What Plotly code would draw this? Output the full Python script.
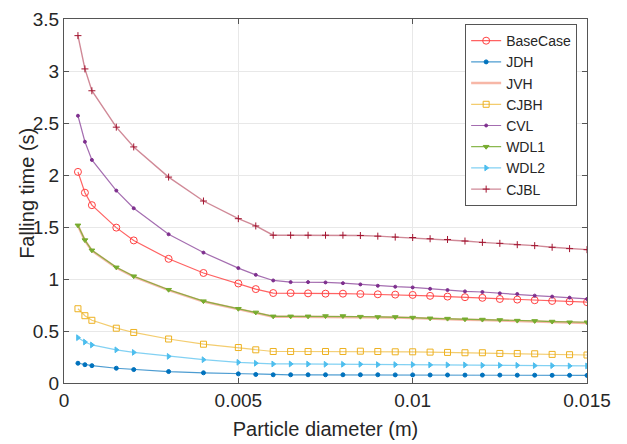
import plotly.graph_objects as go

diam = [0.0004, 0.0006, 0.0008, 0.0015, 0.002, 0.003, 0.004, 0.005, 0.0055,
        0.006, 0.0065, 0.007, 0.0075, 0.008, 0.0085, 0.009, 0.0095, 0.01,
        0.0105, 0.011, 0.0115, 0.012, 0.0125, 0.013, 0.0135, 0.014, 0.0145, 0.015]

base_case = [2.03, 1.83, 1.71, 1.494, 1.371, 1.194, 1.058, 0.957, 0.903,
             0.865, 0.865, 0.862, 0.859, 0.859, 0.856, 0.853, 0.850, 0.847,
             0.838, 0.831, 0.825, 0.819, 0.808, 0.802, 0.796, 0.789, 0.783, 0.777]
jdh = [0.19, 0.176, 0.167, 0.142, 0.129, 0.110, 0.098, 0.088, 0.082,
       0.079, 0.079, 0.079, 0.079, 0.079, 0.079, 0.079, 0.078, 0.078,
       0.077, 0.077, 0.076, 0.076, 0.076, 0.075, 0.075, 0.074, 0.074, 0.073]
jvh = [1.512, 1.370, 1.272, 1.108, 1.023, 0.893, 0.783, 0.710, 0.675,
       0.637, 0.637, 0.637, 0.638, 0.638, 0.636, 0.633, 0.631, 0.625,
       0.618, 0.615, 0.609, 0.605, 0.601, 0.595, 0.592, 0.586, 0.579, 0.578]
cjbh = [0.714, 0.647, 0.603, 0.527, 0.486, 0.423, 0.373, 0.341, 0.319,
        0.303, 0.303, 0.303, 0.303, 0.303, 0.306, 0.303, 0.300, 0.300,
        0.297, 0.294, 0.291, 0.291, 0.284, 0.284, 0.281, 0.275, 0.272, 0.269]
cvl = [2.57, 2.32, 2.145, 1.85, 1.68, 1.43, 1.254, 1.105, 1.04,
       0.986, 0.970, 0.970, 0.967, 0.960, 0.948, 0.935, 0.926, 0.919,
       0.906, 0.894, 0.881, 0.875, 0.862, 0.856, 0.840, 0.831, 0.821, 0.808]
wdl1 = [1.516, 1.374, 1.276, 1.112, 1.027, 0.897, 0.787, 0.714, 0.679,
        0.641, 0.641, 0.641, 0.644, 0.644, 0.638, 0.635, 0.635, 0.629,
        0.622, 0.619, 0.613, 0.610, 0.606, 0.600, 0.597, 0.591, 0.584, 0.584]
wdl2 = [0.436, 0.394, 0.366, 0.319, 0.294, 0.256, 0.224, 0.199, 0.190,
        0.183, 0.183, 0.182, 0.180, 0.180, 0.180, 0.177, 0.177, 0.177,
        0.174, 0.174, 0.174, 0.170, 0.170, 0.170, 0.167, 0.167, 0.164, 0.164]
cjbl = [3.34, 3.02, 2.81, 2.46, 2.27, 1.98, 1.75, 1.58, 1.51,
        1.421, 1.421, 1.421, 1.421, 1.421, 1.418, 1.412, 1.403, 1.399,
        1.387, 1.380, 1.365, 1.352, 1.343, 1.330, 1.321, 1.305, 1.292, 1.282]

x_ticks = [0, 0.005, 0.01, 0.015]
x_tick_labels = ["0", "0.005", "0.01", "0.015"]
y_ticks = [0, 0.5, 1, 1.5, 2, 2.5, 3, 3.5]
y_tick_labels = ["0", "0.5", "1", "1.5", "2", "2.5", "3", "3.5"]

series = [
    ("BaseCase", base_case, "rgba(255,70,70,0.85)", "#ff4040", "circle-open", 7, 1.2),
    ("JDH", jdh, "rgba(0,114,189,0.7)", "#0072bd", "circle", 4, 1.2),
    ("JVH", jvh, "rgba(245,165,145,0.8)", "#f5a591", None, 0, 2.5),
    ("CJBH", cjbh, "rgba(237,177,32,0.65)", "#edb120", "square-open", 6, 1.2),
    ("CVL", cvl, "rgba(126,47,142,0.7)", "#7e2f8e", "circle", 3, 1.2),
    ("WDL1", wdl1, "rgba(119,172,48,0.85)", "#77ac30", "triangle-down", 5, 1.2),
    ("WDL2", wdl2, "rgba(77,190,238,0.7)", "#4dbeee", "triangle-right", 5, 1.2),
    ("CJBL", cjbl, "rgba(162,20,47,0.5)", "#a2142f", "cross-thin-open", 5, 1.4),
]

fig = go.Figure()
for name, vals, lc, mc, sym, msz, lw in series:
    if sym is None:
        fig.add_trace(go.Scatter(x=diam, y=vals, name=name, mode="lines",
                                 line=dict(color=lc, width=lw)))
    else:
        fig.add_trace(go.Scatter(x=diam, y=vals, name=name, mode="lines+markers",
                                 line=dict(color=lc, width=lw),
                                 marker=dict(symbol=sym, size=msz, color=mc,
                                             line=dict(color=mc, width=1))))

axis_common = dict(
    showgrid=True, gridcolor="#e8e8e8", gridwidth=1,
    showline=True, linecolor="#555555", linewidth=1, mirror="ticks",
    ticks="inside", ticklen=5, tickcolor="#555555",
    tickfont=dict(family="Liberation Sans, Arial", size=19, color="#262626"),
    zeroline=False, automargin=False, ticklabeloverflow="allow",
)

fig.update_layout(
    width=619, height=436,
    margin=dict(l=56, r=40, t=11, b=61),
    paper_bgcolor="white", plot_bgcolor="white",
    font=dict(family="Liberation Sans, Arial", color="#262626"),
    xaxis=dict(range=[0, 0.015], tickvals=x_ticks, ticktext=x_tick_labels,
               title=dict(text="Particle diameter (m)", font=dict(size=20), standoff=12),
               **axis_common),
    yaxis=dict(range=[0, 3.5], tickvals=y_ticks, ticktext=y_tick_labels,
               **axis_common),
    annotations=[dict(text="Falling time (s)", textangle=-90, xref="paper", yref="paper",
                      x=-0.071, y=0.522, xanchor="center", yanchor="middle",
                      showarrow=False, font=dict(size=20, color="#262626"))],
    legend=dict(x=0.767, y=0.986, xanchor="left", yanchor="top",
                bgcolor="white", bordercolor="#555555", borderwidth=1,
                font=dict(size=14, color="#262626"), tracegroupgap=0,
                itemwidth=30),
    showlegend=True,
)

fig.write_html("out.html")
